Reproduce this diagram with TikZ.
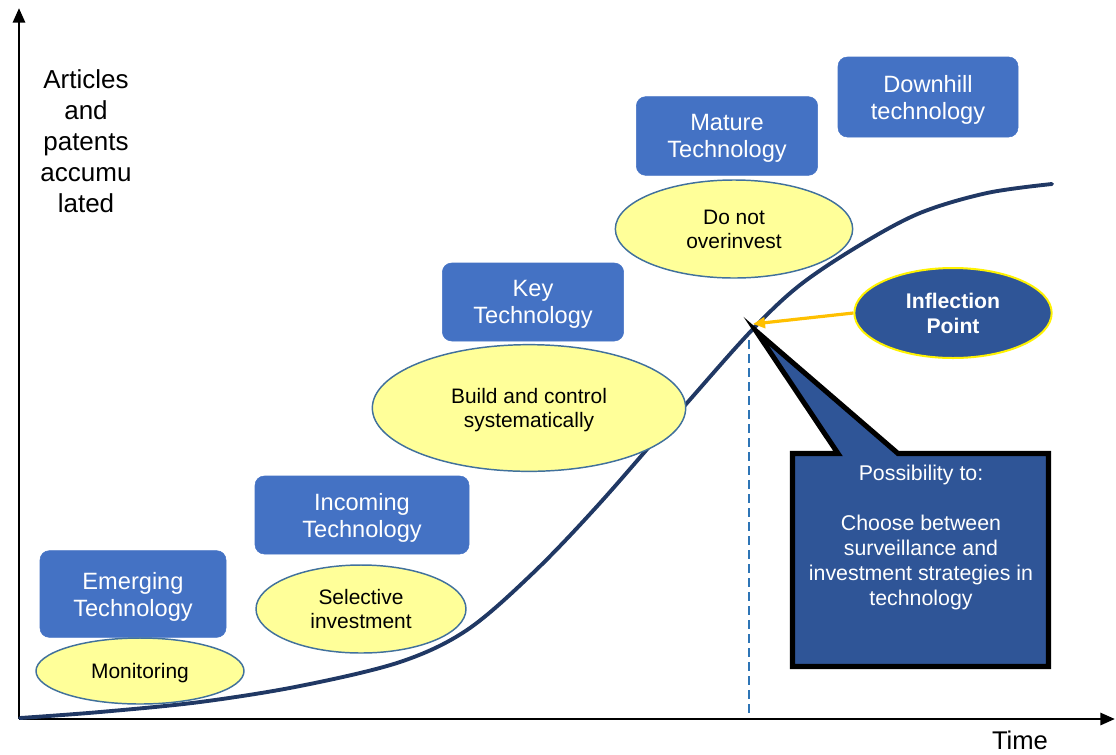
\documentclass[tikz,border=0pt]{standalone}
\usepackage{fontspec}
\setmainfont{Liberation Sans}
\usetikzlibrary{
  arrows.meta,
  shapes.geometric
}
\definecolor{techblue}{HTML}{4472C4}
\definecolor{advyellow}{HTML}{FFFF99}
\definecolor{advedge}{HTML}{41719C}
\definecolor{trendnavy}{HTML}{203864}
\definecolor{deepblue}{HTML}{2F5597}
\definecolor{pointgold}{HTML}{FFC000}
\definecolor{dashblue}{HTML}{2E75B6}

\tikzset{
  techbox/.style={rectangle, rounded corners=7pt, fill=techblue, draw=techblue,
    text=white, align=center, inner sep=0pt, text depth=0pt,
    font=\fontsize{17.7}{20.3}\selectfont},
  advice/.style={ellipse, fill=advyellow, draw=advedge, line width=1.1pt,
    align=center, inner sep=0pt, text depth=0pt,
    font=\fontsize{15.7}{18}\selectfont},
  axis/.style={line width=2.2pt, -{Triangle[length=11pt,width=9pt]}},
  trend/.style={trendnavy, line width=2.9pt, line cap=round},
}

\begin{document}
\begin{tikzpicture}[x=0.75pt, y=-0.75pt]
\useasboundingbox (0,0) rectangle (1116,754);

% axes
\coordinate (origin) at (19,719);
\coordinate (ytip)   at (19,8);
\coordinate (xtip)   at (1115,719);
\draw[axis] (origin) -- (ytip);
\draw[axis] (origin) -- (xtip);
\node[font=\fontsize{19.5}{23.2}\selectfont, align=center] (ylabel) at (86,141)
  {Articles\\and\\patents\\accumu\\lated};
\node[font=\fontsize{19.2}{23}\selectfont] (xlabel) at (1020,740) {Time};

% s-curve of accumulated output
\draw[trend] plot[smooth, tension=0.55] coordinates {
  (20,718) (100,712) (200,702) (300,686) (400,662) (467,630) (533,573)
  (600,503) (687,403) (752,330) (800,285) (860,245) (920,213) (987,193)
  (1052,184)};
\coordinate (ip) at (753,324);

% inflection marker
\draw[dashblue, line width=1.2pt, dash pattern=on 7pt off 3.5pt] (749,340) -- (749,716);

% callout with pointer to the inflection point
\filldraw[deepblue, draw=black, line width=3.8pt, line join=miter]
  (792.5,453.5) -- (838,453.5) -- (756,331) -- (898,453.5) -- (1048.5,453.5)
  -- (1048.5,666.5) -- (792.5,666.5) -- cycle;
\node[text=white, align=center, anchor=north, inner sep=0pt,
  font=\fontsize{16}{18.75}\selectfont] (calltext) at (921,465)
  {Possibility to:\\[18.75pt]Choose between\\surveillance and\\investment strategies in\\technology};

% stages of the technology
\node[techbox, minimum width=139.5pt, minimum height=65pt] (emerging) at (133,594)
  {Emerging\\Technology};
\node[techbox, minimum width=160.5pt, minimum height=58.5pt] (incoming) at (362,515)
  {Incoming\\Technology};
\node[techbox, minimum width=136pt, minimum height=58.5pt] (key) at (533,302)
  {Key\\Technology};
\node[techbox, minimum width=136pt, minimum height=59pt] (mature) at (727,136)
  {Mature\\Technology};
\node[techbox, minimum width=135pt, minimum height=60pt] (downhill) at (928,97)
  {Downhill\\technology};

% advice for each stage
\node[advice, minimum width=156pt, minimum height=49.5pt] (monitor) at (140,671)
  {Monitoring};
\node[advice, minimum width=157.5pt, minimum height=66pt] (selective) at (361,609)
  {Selective\\investment};
\node[advice, minimum width=235pt, minimum height=95pt] (build) at (529,408)
  {Build and control\\systematically};
\node[advice, minimum width=178pt, minimum height=73.5pt] (noover) at (734,229)
  {Do not\\overinvest};

% inflection point label
\node[ellipse, fill=deepblue, draw=yellow, line width=1.5pt, text=white,
  align=center, inner sep=0pt, text depth=0pt, minimum width=148pt,
  minimum height=67.5pt, font=\bfseries\fontsize{15.9}{18.75}\selectfont]
  (inflection) at (953,313) {Inflection\\Point};
\draw[pointgold, line width=2.4pt, -{Triangle[length=9pt,width=8pt]}]
  (inflection.west) -- (ip);
\end{tikzpicture}
\end{document}
